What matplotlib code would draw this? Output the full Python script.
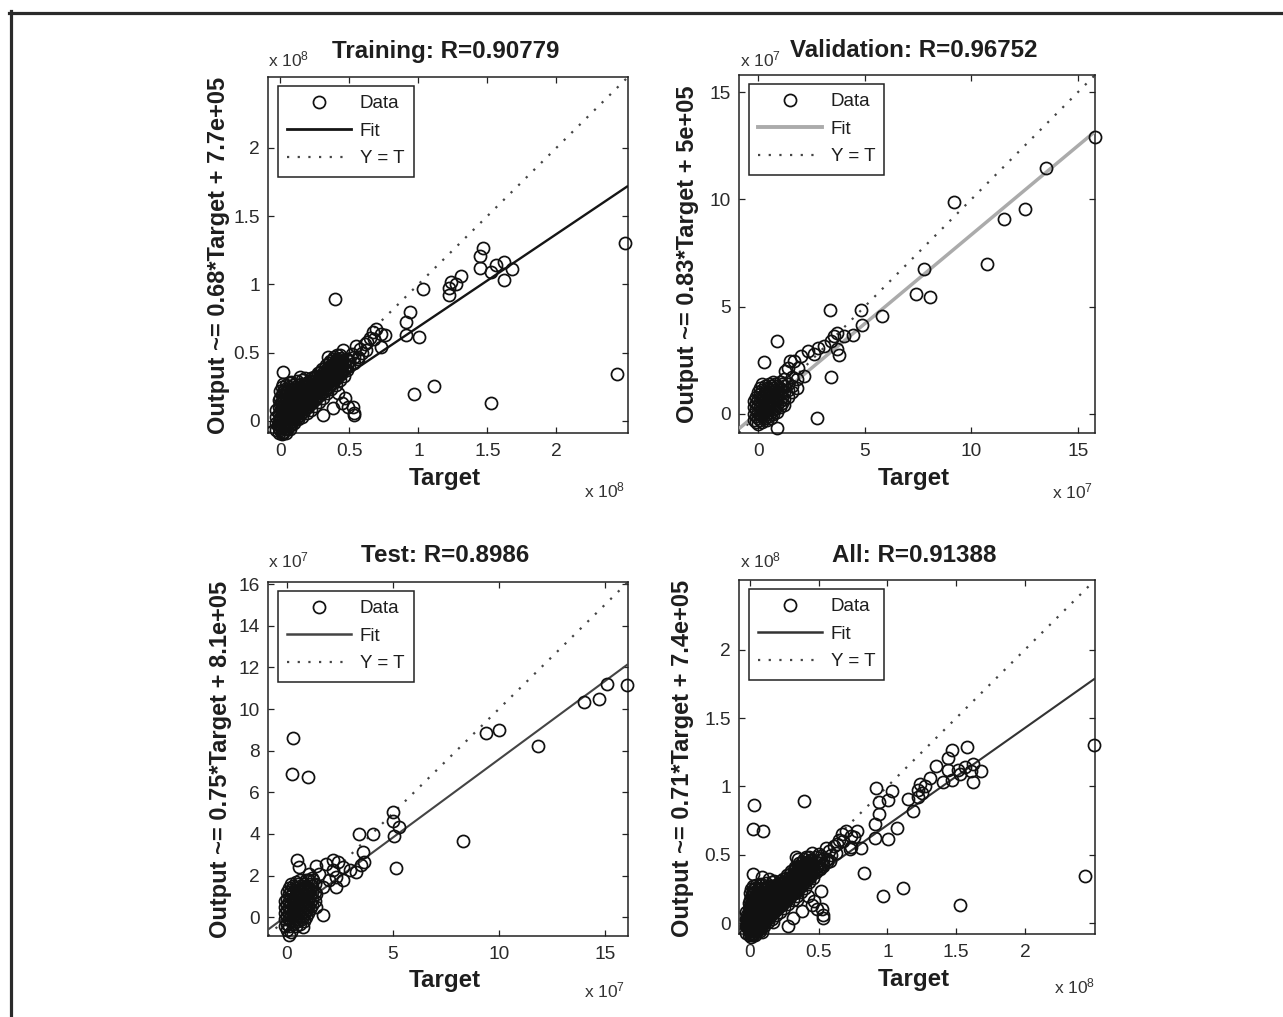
import matplotlib
matplotlib.use("Agg")
import matplotlib.pyplot as plt
from matplotlib.lines import Line2D
from matplotlib.ticker import FixedLocator, FuncFormatter

plt.rcParams['font.family'] = ['Liberation Sans', 'DejaVu Sans']
plt.rcParams['mathtext.fontset'] = 'custom'
plt.rcParams['mathtext.rm'] = 'Liberation Sans'
plt.rcParams['mathtext.it'] = 'Liberation Sans'

# ---------------- data ----------------
panel_names = ['Training', 'Validation', 'Test', 'All']
panel_R = ['0.90779', '0.96752', '0.8986', '0.91388']
fit_slopes = [0.68, 0.83, 0.75, 0.71]
fit_intercepts = [7.7e5, 5e5, 8.1e5, 7.4e5]
intercept_labels = ['7.7e+05', '5e+05', '8.1e+05', '7.4e+05']
scale_exponents = [8, 7, 7, 8]
axis_limits = [(-0.09, 2.52), (-0.9, 15.8), (-0.9, 16.1), (-0.08, 2.51)]
x_ticks = [[0, 0.5, 1, 1.5, 2], [0, 5, 10, 15], [0, 5, 10, 15], [0, 0.5, 1, 1.5, 2]]
y_ticks = [[0, 0.5, 1, 1.5, 2], [0, 5, 10, 15], [0, 2, 4, 6, 8, 10, 12, 14, 16], [0, 0.5, 1, 1.5, 2]]

# Training (units of 1e8)
train_sparse_target = [2.50, 2.44, 1.53, 1.11, 0.97, 0.394,
                       1.469, 1.444, 1.444, 1.529, 1.565, 1.621, 1.679, 1.621,
                       1.312, 1.275, 1.239, 1.222, 1.222, 1.034,
                       0.937, 0.913, 0.913, 1.002, 0.756, 0.73,
                       0.696, 0.672, 0.732, 0.65, 0.611, 0.575, 0.623, 0.454, 0.346, 0.52, 0.56, 0.59, 0.50, 0.55, 0.63, 0.68,
                       0.02, 0.14, 0.176, 0.08,
                       0.466, 0.49, 0.527, 0.53, 0.53, 0.38, 0.31, 0.45, 0.42,
                       -0.017, 0.02]
train_sparse_output = [1.30, 0.345, 0.13, 0.253, 0.195, 0.893,
                       1.263, 1.209, 1.117, 1.088, 1.141, 1.166, 1.112, 1.034,
                       1.063, 1.002, 1.02, 0.971, 0.922, 0.966,
                       0.796, 0.723, 0.625, 0.613, 0.63, 0.54,
                       0.674, 0.652, 0.637, 0.61, 0.564, 0.528, 0.516, 0.516, 0.467, 0.49, 0.47, 0.50, 0.44, 0.55, 0.58, 0.60,
                       0.358, 0.32, 0.31, 0.285,
                       0.163, 0.10, 0.10, 0.06, 0.04, 0.09, 0.04, 0.13, 0.20,
                       -0.03, -0.09]
train_cluster_target = [-0.03, -0.01, 0.00, 0.01, 0.02, 0.03, 0.04, 0.05, 0.06, 0.07,
                        0.08, 0.09, 0.10, 0.11, 0.12, 0.13, 0.14, 0.15, 0.16, 0.17,
                        0.18, 0.19, 0.20, 0.21, 0.22, 0.23, 0.24, 0.25, 0.26, 0.27,
                        0.28, 0.29, 0.30, 0.31, 0.32, 0.33, 0.34, 0.35, 0.36, 0.37,
                        0.38, 0.39, 0.40, 0.41, 0.42, 0.43, 0.44, 0.45, 0.46, 0.48,
                        0.50, 0.53, 0.56]
train_cluster_output = [
    [-0.07, -0.02, 0.03, 0.08],
    [-0.09, -0.05, 0.00, 0.05, 0.10, 0.15],
    [-0.07, -0.03, 0.02, 0.07, 0.12, 0.17, 0.22],
    [-0.10, -0.05, 0.00, 0.04, 0.09, 0.14, 0.19, 0.25],
    [-0.08, -0.03, 0.02, 0.06, 0.11, 0.16, 0.21, 0.27],
    [-0.06, -0.01, 0.04, 0.08, 0.13, 0.18, 0.23],
    [-0.09, -0.04, 0.01, 0.06, 0.10, 0.15, 0.20, 0.26],
    [-0.06, -0.02, 0.03, 0.08, 0.12, 0.17, 0.22],
    [-0.04, 0.01, 0.05, 0.10, 0.14, 0.19, 0.25],
    [-0.06, -0.01, 0.03, 0.08, 0.12, 0.16, 0.21, 0.28],
    [-0.03, 0.02, 0.06, 0.10, 0.14, 0.18, 0.23],
    [0.00, 0.04, 0.08, 0.12, 0.16, 0.20, 0.26],
    [-0.02, 0.03, 0.07, 0.11, 0.15, 0.19, 0.23],
    [0.01, 0.05, 0.09, 0.13, 0.17, 0.21, 0.25],
    [0.03, 0.07, 0.11, 0.15, 0.19, 0.23, 0.29],
    [0.01, 0.06, 0.10, 0.14, 0.18, 0.22, 0.26],
    [0.04, 0.08, 0.12, 0.16, 0.20, 0.24],
    [0.06, 0.10, 0.14, 0.18, 0.22, 0.27],
    [0.03, 0.08, 0.12, 0.16, 0.20, 0.24, 0.30],
    [0.07, 0.11, 0.15, 0.19, 0.23, 0.27],
    [0.09, 0.13, 0.17, 0.21, 0.25],
    [0.06, 0.11, 0.15, 0.19, 0.23, 0.28],
    [0.10, 0.14, 0.18, 0.22, 0.26],
    [0.12, 0.16, 0.20, 0.24, 0.29],
    [0.08, 0.14, 0.18, 0.22, 0.26, 0.31],
    [0.13, 0.17, 0.21, 0.25, 0.29],
    [0.15, 0.19, 0.23, 0.27, 0.32],
    [0.11, 0.17, 0.21, 0.25, 0.29],
    [0.16, 0.20, 0.24, 0.28, 0.33],
    [0.18, 0.22, 0.26, 0.30, 0.35],
    [0.14, 0.20, 0.24, 0.28, 0.32],
    [0.19, 0.23, 0.27, 0.31, 0.36],
    [0.21, 0.25, 0.29, 0.33, 0.38],
    [0.17, 0.23, 0.27, 0.31, 0.35],
    [0.22, 0.26, 0.30, 0.34, 0.39],
    [0.24, 0.28, 0.32, 0.36, 0.41],
    [0.20, 0.26, 0.30, 0.34, 0.38],
    [0.25, 0.29, 0.33, 0.37, 0.42],
    [0.27, 0.31, 0.35, 0.39, 0.44],
    [0.23, 0.29, 0.33, 0.37, 0.41],
    [0.28, 0.32, 0.36, 0.40, 0.45],
    [0.30, 0.34, 0.38, 0.42, 0.47],
    [0.26, 0.32, 0.36, 0.40, 0.44],
    [0.31, 0.35, 0.39, 0.43, 0.48],
    [0.33, 0.37, 0.41, 0.45],
    [0.30, 0.35, 0.39, 0.43, 0.48],
    [0.34, 0.38, 0.42, 0.46],
    [0.36, 0.40, 0.44],
    [0.33, 0.38, 0.42],
    [0.37, 0.41, 0.45],
    [0.40, 0.44],
    [0.42, 0.47],
    [0.45]]

# Validation (units of 1e7)
val_sparse_target = [15.79, 13.5, 9.17, 12.52, 11.51, 10.73, 7.77, 7.38, 8.05, 5.83, 4.81, 4.89, 3.37, 3.41,
                     2.75, 0.88, 0.88, 0.25, 4.43, 3.80, 2.16,
                     4.03, 3.72, 3.57, 3.41, 3.10, 2.79, 2.32, 2.00, 1.70, 1.39, 1.24, 1.86, 2.60, 3.72, 1.47]
val_sparse_output = [12.9, 11.47, 9.87, 9.53, 9.09, 6.98, 6.75, 5.57, 5.46, 4.55, 4.82, 4.13, 4.85, 1.70,
                     -0.20, 3.40, -0.66, 2.40, 3.66, 2.75, 1.74,
                     3.62, 3.77, 3.62, 3.38, 3.15, 3.07, 2.91, 2.68, 2.44, 2.13, 2.00, 2.13, 2.80, 3.00, 2.44]
val_cluster_target = [-0.2, -0.1, 0.0, 0.1, 0.2, 0.3, 0.4, 0.5, 0.6, 0.7, 0.8, 0.9, 1.0, 1.1, 1.2, 1.4, 1.6, 1.8]
val_cluster_output = [
    [-0.3, 0.0, 0.3, 0.6],
    [-0.4, -0.1, 0.2, 0.5, 0.8],
    [-0.5, -0.2, 0.1, 0.4, 0.7, 1.0],
    [-0.3, 0.0, 0.3, 0.6, 0.9, 1.2],
    [-0.4, -0.1, 0.2, 0.5, 0.8, 1.1, 1.4],
    [-0.2, 0.1, 0.4, 0.7, 1.0, 1.3],
    [-0.3, 0.0, 0.3, 0.6, 0.9, 1.2],
    [-0.1, 0.2, 0.5, 0.8, 1.1, 1.4],
    [-0.2, 0.1, 0.4, 0.7, 1.0, 1.3],
    [0.0, 0.3, 0.6, 0.9, 1.2, 1.5],
    [0.2, 0.5, 0.8, 1.1, 1.4],
    [0.1, 0.4, 0.7, 1.0, 1.3],
    [0.3, 0.6, 0.9, 1.2, 1.5],
    [0.5, 0.8, 1.1, 1.4],
    [0.4, 0.7, 1.0, 1.3, 1.6],
    [0.8, 1.1, 1.4],
    [1.0, 1.3, 1.7],
    [1.2, 1.6]]

# Test (units of 1e7)
test_sparse_target = [16.07, 15.13, 14.73, 14.02, 11.83, 10.01, 9.39, 8.29, 0.27, 0.24, 0.97, 4.99, 4.99, 5.30,
                      5.06, 5.14, 3.38, 4.07, 3.57, 3.65, 3.49, 0.46, 1.68, 0.74, 0.11,
                      2.16, 2.39, 1.84, 1.37, 2.63, 2.16, 2.31, 2.00, 2.63, 1.52, 1.21, 0.90, 2.95, 3.25,
                      1.05, 1.68, 2.31, 1.37, 0.58, 1.00, 1.37]
test_sparse_output = [11.15, 11.21, 10.49, 10.35, 8.23, 8.98, 8.84, 3.68, 8.63, 6.88, 6.72, 5.04, 4.64, 4.32,
                      3.92, 2.38, 4.00, 4.00, 3.12, 2.65, 2.49, 2.76, 0.10, -0.46, -0.86,
                      2.73, 2.65, 2.57, 2.44, 2.41, 2.25, 1.93, 1.77, 1.77, 2.09, 1.77, 1.77, 2.25, 2.17,
                      2.09, 1.45, 1.45, 1.13, 2.41, 1.30, 0.49]
test_cluster_target = [-0.1, 0.0, 0.1, 0.2, 0.3, 0.4, 0.5, 0.6, 0.7, 0.8, 0.9, 1.0, 1.1, 1.2, 1.3]
test_cluster_output = [
    [-0.4, -0.1, 0.2, 0.5, 0.8],
    [-0.6, -0.3, 0.0, 0.3, 0.6, 0.9, 1.2],
    [-0.4, -0.1, 0.2, 0.5, 0.8, 1.1, 1.4],
    [-0.7, -0.2, 0.1, 0.4, 0.7, 1.0, 1.3, 1.6],
    [-0.3, 0.0, 0.3, 0.6, 0.9, 1.2, 1.5],
    [-0.4, -0.1, 0.2, 0.5, 0.8, 1.1, 1.4, 1.7],
    [-0.2, 0.1, 0.4, 0.7, 1.0, 1.3, 1.6],
    [-0.3, 0.0, 0.3, 0.6, 0.9, 1.2, 1.5, 1.8],
    [-0.1, 0.2, 0.5, 0.8, 1.1, 1.4],
    [-0.2, 0.1, 0.4, 0.7, 1.0, 1.3, 1.6],
    [0.0, 0.3, 0.6, 0.9, 1.2, 1.5],
    [0.2, 0.5, 0.8, 1.1, 1.4, 1.8],
    [0.4, 0.7, 1.0, 1.3, 1.6],
    [0.6, 0.9, 1.2, 1.5, 1.9],
    [0.8, 1.2, 1.6]]


def expand(cols, rows):
    t, o = [], []
    for c, r in zip(cols, rows):
        for v in r:
            t.append(c)
            o.append(v)
    return t, o


assert len(train_sparse_target) == len(train_sparse_output)
assert len(val_sparse_target) == len(val_sparse_output)
assert len(test_sparse_target) == len(test_sparse_output)
assert len(train_cluster_target) == len(train_cluster_output)
assert len(val_cluster_target) == len(val_cluster_output)
assert len(test_cluster_target) == len(test_cluster_output)

tct, tco = expand(train_cluster_target, train_cluster_output)
vct, vco = expand(val_cluster_target, val_cluster_output)
sct, sco = expand(test_cluster_target, test_cluster_output)

train_t = train_sparse_target + tct
train_o = train_sparse_output + tco
val_t = val_sparse_target + vct
val_o = val_sparse_output + vco
test_t = test_sparse_target + sct
test_o = test_sparse_output + sco
# "All" combines every subset, expressed in units of 1e8
all_t = train_t + [v / 10 for v in val_t] + [v / 10 for v in test_t]
all_o = train_o + [v / 10 for v in val_o] + [v / 10 for v in test_o]

panel_targets = [train_t, val_t, test_t, all_t]
panel_outputs = [train_o, val_o, test_o, all_o]

# ---------------- style / layout ----------------
W, H = 1283, 1017
fit_colors = ['#151515', '#ababab', '#444444', '#333333']
fit_widths = [1.7, 2.5, 1.5, 1.5]
panel_boxes = [(268, 77, 628, 433), (739, 75, 1095, 433), (268, 582, 628, 936), (739, 580, 1095, 934)]
title_pos = [(446, 58), (914, 57), (445, 562), (914, 562)]
ylabel_pos = [(218, 255), (687, 254), (220, 759), (683, 758)]
xlabel_pos = [(445, 485), (914, 485), (445, 987), (914, 986)]
offset_tl = [(268, 66), (740, 66), (268, 567), (740, 567)]
offset_br = [(625, 497), (1093, 498), (625, 997), (1095, 993)]

TXT = '#1e1e1e'
MS = 8.7
MEW = 1.25
DOT = (0, (1, 3.8))
fig = plt.figure(figsize=(W / 100, H / 100), dpi=100)


def fx(x):
    return x / W


def fy(y):
    return 1 - y / H


for i in range(4):
    l, t, r, b = panel_boxes[i]
    ax = fig.add_axes([fx(l), fy(b), (r - l) / W, (b - t) / H])
    lo, hi = axis_limits[i]
    scale = 10 ** scale_exponents[i]
    m = fit_slopes[i]
    c = fit_intercepts[i] / scale
    ax.plot([lo, hi], [lo, hi], linestyle=DOT, color='#444444', lw=1.6, zorder=2)
    ax.plot([lo, hi], [m * lo + c, m * hi + c], color=fit_colors[i], lw=fit_widths[i], zorder=3,
            solid_capstyle='butt')
    ax.plot(panel_targets[i], panel_outputs[i], linestyle='none', marker='o', ms=MS, mfc='none',
            mec='#111111', mew=MEW, zorder=4, clip_on=False)
    ax.set_xlim(lo, hi)
    ax.set_ylim(lo, hi)
    ax.xaxis.set_major_locator(FixedLocator(x_ticks[i]))
    ax.yaxis.set_major_locator(FixedLocator(y_ticks[i]))
    fmt = FuncFormatter(lambda v, p: '%g' % v)
    ax.xaxis.set_major_formatter(fmt)
    ax.yaxis.set_major_formatter(fmt)
    ax.tick_params(direction='in', top=True, right=True, length=4, width=0.9, colors='#222222',
                   labelsize=13.8, labelcolor='#2a2a2a')
    ax.tick_params(axis='x', pad=7)
    ax.tick_params(axis='y', pad=6)
    for s in ax.spines.values():
        s.set_linewidth(1.1)
        s.set_color('#222222')

    handles = [Line2D([], [], linestyle='none', marker='o', ms=MS, mfc='none', mec='#111111', mew=MEW),
               Line2D([], [], color=fit_colors[i], lw=fit_widths[i] + 0.3),
               Line2D([], [], linestyle=DOT, color='#444444', lw=1.6)]
    leg = ax.legend(handles, ['Data', 'Fit', 'Y = T'], loc='upper left', bbox_to_anchor=(0.028, 0.975),
                    borderaxespad=0, fontsize=13.5, handlelength=3.4, handletextpad=0.45,
                    labelspacing=0.55, borderpad=0.5, fancybox=False, framealpha=1, numpoints=1)
    leg.get_frame().set_edgecolor('#222222')
    leg.get_frame().set_linewidth(1.1)
    for txt in leg.get_texts():
        txt.set_color(TXT)

    fig.text(fx(title_pos[i][0]), fy(title_pos[i][1]), '%s: R=%s' % (panel_names[i], panel_R[i]),
             ha='center', va='baseline', fontsize=17.4, fontweight='bold', color=TXT)
    fig.text(fx(ylabel_pos[i][0]), fy(ylabel_pos[i][1]),
             'Output ~= %g*Target + %s' % (fit_slopes[i], intercept_labels[i]),
             ha='center', va='center', rotation=90, fontsize=17, fontweight='bold', color=TXT)
    fig.text(fx(xlabel_pos[i][0]), fy(xlabel_pos[i][1]), 'Target', ha='center', va='baseline',
             fontsize=17.4, fontweight='bold', color=TXT)
    off = r'x 10$^{%d}$' % scale_exponents[i]
    fig.text(fx(offset_tl[i][0]), fy(offset_tl[i][1]), off, ha='left', va='baseline',
             fontsize=12.5, color='#333333')
    fig.text(fx(offset_br[i][0]), fy(offset_br[i][1]), off, ha='right', va='baseline',
             fontsize=12.5, color='#333333')

# outer frame (top and left edges of the surrounding box)
fig.add_artist(Line2D([fx(9), fx(W)], [fy(12.5), fy(12.5)], color='#2a2a2a', lw=2.3,
                      transform=fig.transFigure))
fig.add_artist(Line2D([fx(10.5), fx(10.5)], [fy(11), fy(H)], color='#2a2a2a', lw=2.3,
                      transform=fig.transFigure))

fig.savefig('out.png', dpi=100, facecolor='white')
